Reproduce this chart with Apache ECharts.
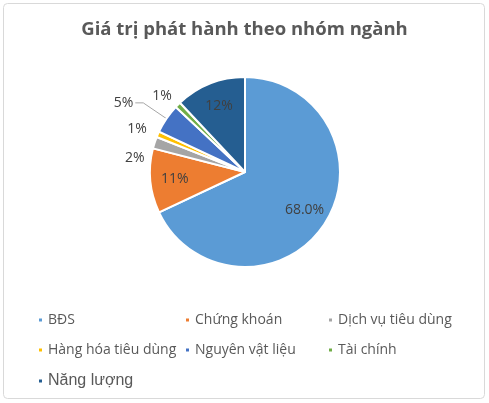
<!DOCTYPE html>
<html>
<head>
<meta charset="utf-8">
<script src="https://cdn.jsdelivr.net/npm/echarts@6/dist/echarts.min.js"></script>
<style>
  html, body { margin: 0; padding: 0; background: #fff; }
  #chart { width: 489px; height: 403px; }
</style>
</head>
<body>
<div id="chart"></div>
<script>
// --- Data ---
const categories = ['BĐS', 'Chứng khoán', 'Dịch vụ tiêu dùng', 'Hàng hóa tiêu dùng', 'Nguyên vật liệu', 'Tài chính', 'Năng lượng'];
const values = [68.0, 11, 2, 1, 5, 1, 12];
const valueLabels = ['68.0%', '11%', '2%', '1%', '5%', '1%', '12%'];
const colors = ['#5B9BD5', '#ED7D31', '#A5A5A5', '#FFC000', '#4472C4', '#70AD47', '#255E91'];
const outsideIdx = [2, 3, 4, 5];

const textColor = '#595959';
const font = '"Open Sans", "Noto Sans", sans-serif';

// nudges for the small outside labels (Excel puts them a bit differently)
const labelNudge = { 2: [-10, 15], 3: [-11, -5], 5: [-6, -9] };

// slices (no labels)
const sliceData = categories.map((c, i) => ({
    name: c,
    value: values[i],
    itemStyle: { color: colors[i] }
}));

// label ring: transparent, only carries the labels
const labelData = categories.map((c, i) => {
    const outside = outsideIdx.includes(i);
    const withLine = i === 4;
    return {
        name: c,
        value: values[i],
        itemStyle: { color: 'rgba(0,0,0,0)' },
        label: {
            show: true,
            position: outside ? 'outside' : 'inside',
            formatter: valueLabels[i],
            distanceToLabelLine: withLine ? 2 : 0
        },
        labelLine: { show: withLine, length: withLine ? 28 : 0, length2: withLine ? 8 : 0 }
    };
});

const legendBase = {
    orient: 'vertical', top: 313, padding: 0, itemWidth: 5, itemHeight: 5, itemGap: 16,
    icon: 'rect', textStyle: { fontSize: 14, color: textColor, fontFamily: font }
};

const chart = echarts.init(document.getElementById('chart'));
chart.setOption({
    animation: false,
    textStyle: { fontFamily: font },
    title: {
        text: 'Giá trị phát hành theo nhóm ngành',
        left: 'center',
        top: 15,
        textStyle: { fontSize: 18.5, fontWeight: 'bold', color: textColor, fontFamily: font }
    },
    graphic: [{
        type: 'rect',
        shape: { x: 3.5, y: 3.5, width: 481, height: 395, r: 4 },
        style: { fill: 'none', stroke: '#d9d9d9', lineWidth: 1 },
        silent: true
    }],
    legend: [
        Object.assign({}, legendBase, {
            left: 37,
            data: [categories[0], categories[3],
                { name: categories[6], textStyle: { fontSize: 16, fontFamily: '"Liberation Sans", Arial, sans-serif' } }]
        }),
        Object.assign({}, legendBase, { left: 184, data: [categories[1], categories[4]] }),
        Object.assign({}, legendBase, { left: 327, data: [categories[2], categories[5]] })
    ],
    series: [
        {
            type: 'pie',
            center: [245, 172],
            radius: [0, 95],
            startAngle: 90,
            clockwise: true,
            label: { show: false },
            labelLine: { show: false },
            itemStyle: { borderColor: '#fff', borderWidth: 2 },
            data: sliceData
        },
        {
            type: 'pie',
            silent: true,
            center: [245, 172],
            radius: [40, 95],
            startAngle: 90,
            clockwise: true,
            avoidLabelOverlap: false,
            minShowLabelAngle: 0,
            label: { fontSize: 14, color: '#404040', fontFamily: font },
            labelLine: { lineStyle: { color: '#a6a6a6', width: 1 } },
            labelLayout: function (p) {
                const n = labelNudge[p.dataIndex];
                return n ? { dx: n[0], dy: n[1], hideOverlap: false } : { hideOverlap: false };
            },
            legendHoverLink: false,
            data: labelData
        }
    ]
});
</script>
</body>
</html>
